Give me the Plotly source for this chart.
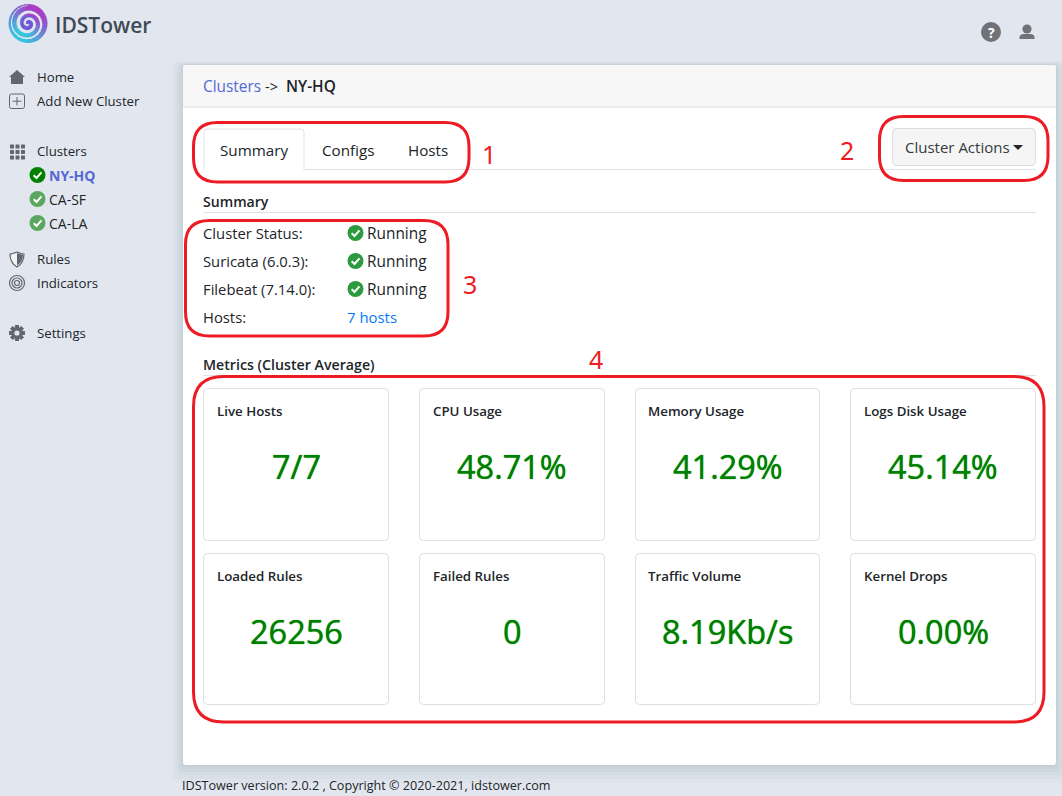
import math
import plotly.graph_objects as go

# ---- content -------------------------------------------------------------
nav_labels = ["Home", "Add New Cluster", "Clusters", "Rules", "Indicators", "Settings"]
nav_rows = [77, 101, 151, 259, 283, 333]
cluster_names = ["NY-HQ", "CA-SF", "CA-LA"]
cluster_rows = [175, 199, 223]
tab_labels = ["Summary", "Configs", "Hosts"]
tab_centers = [254, 348, 428]
status_labels = ["Cluster Status:", "Suricata (6.0.3):", "Filebeat (7.14.0):", "Hosts:"]
status_rows = [233, 261, 289, 317]
card_titles = ["Live Hosts", "CPU Usage", "Memory Usage", "Logs Disk Usage",
               "Loaded Rules", "Failed Rules", "Traffic Volume", "Kernel Drops"]
card_values = ["7/7", "48.71%", "41.29%", "45.14%", "26256", "0", "8.19Kb/s", "0.00%"]
card_lefts = [203, 419, 635, 850]
card_rights = [389, 605, 820, 1036]
card_title_lefts = [217, 433, 648, 864]
card_tops = [388, 553]
card_bottoms = [541, 705]
callout_labels = ["1", "2", "3", "4"]
callout_pos = [(489, 154), (847, 150), (470, 284), (596, 359)]

FONT = "Open Sans"
TEXT = "#212529"
GREEN = "#008000"
RED = "#ed1c24"
LINK = "#5468d4"
ICON = "#5f6770"
PAGE = "#e2e7ef"

fig = go.Figure()
shapes = []
notes = []


def rrect(x0, y0, x1, y1, r):
    return (f"M{x0+r},{y0} L{x1-r},{y0} Q{x1},{y0} {x1},{y0+r} L{x1},{y1-r} Q{x1},{y1} {x1-r},{y1} "
            f"L{x0+r},{y1} Q{x0},{y1} {x0},{y1-r} L{x0},{y0+r} Q{x0},{y0} {x0+r},{y0} Z")


def box(x0, y0, x1, y1, r=0, fill=None, line=None, lw=1, layer="below"):
    shapes.append(dict(type="path", path=rrect(x0, y0, x1, y1, r), fillcolor=fill or "rgba(0,0,0,0)",
                       line=dict(color=line or "rgba(0,0,0,0)", width=lw if line else 0), layer=layer))


def hline(x0, x1, y, color="#dee2e6"):
    shapes.append(dict(type="line", x0=x0, x1=x1, y0=y, y1=y, line=dict(color=color, width=1), layer="below"))


def disc(cx, cy, r, fill, line=None, lw=1):
    shapes.append(dict(type="circle", x0=cx-r, x1=cx+r, y0=cy-r, y1=cy+r, fillcolor=fill,
                       line=dict(color=line or "rgba(0,0,0,0)", width=lw if line else 0), layer="below"))


def poly(path, fill=None, line=None, lw=1):
    shapes.append(dict(type="path", path=path, fillcolor=fill or "rgba(0,0,0,0)",
                       line=dict(color=line or "rgba(0,0,0,0)", width=lw if line else 0), layer="below"))


def text(x, y, s, size=14, color=TEXT, anchor="left", weight=400, font=FONT, shadow=None):
    # annotations pad their box by 2px, left aligned text has to make up for it
    f = dict(family=font, size=size, color=color, weight=weight)
    if shadow:
        f["shadow"] = shadow
    notes.append(dict(x=x, y=y, text=s, showarrow=False, xanchor=anchor, yanchor="middle",
                      xshift=-2 if anchor == "left" else 0, font=f))


def check(cx, cy, r, fill):
    disc(cx, cy, r, fill)
    s = r / 8
    poly(f"M{cx-3.8*s},{cy+0.2*s} L{cx-1*s},{cy+3*s} L{cx+4*s},{cy-2.6*s}", line="white", lw=2)


# ---- panel and its soft shadow -------------------------------------------
for grow in [18, 14, 10, 7, 4, 2]:
    box(183-grow*0.6, 65-grow*0.2, 1056+grow*0.6, 765+grow, 6, fill="rgba(60,75,100,0.022)")
box(183, 65, 1056, 765, 3, fill="white")
shapes.append(dict(type="path", path="M183,107 L183,68 Q183,65 186,65 L1053,65 Q1056,65 1056,68 L1056,107 Z",
                   fillcolor="#f7f7f7", line=dict(width=0), layer="below"))
hline(183, 1056, 107, "#dcdcdc")

# ---- logo ----------------------------------------------------------------
LOGO_X, LOGO_Y = 28, 23.5
cyan, purple = (52, 196, 224), (168, 58, 196)
for k in range(36):
    a0 = math.radians(k*10)
    a1 = math.radians((k+1)*10 + 1.5)
    mid = (a0 + a1) / 2
    t = (1 + 0.55*math.cos(mid) - 0.85*math.sin(mid)) / 2
    c = [round(cyan[j] + (purple[j]-cyan[j])*t) for j in range(3)]
    poly(f"M{LOGO_X},{LOGO_Y} L{LOGO_X+19.5*math.cos(a0)},{LOGO_Y+19.5*math.sin(a0)} "
         f"L{LOGO_X+19.5*math.cos(a1)},{LOGO_Y+19.5*math.sin(a1)} Z", fill=f"rgb({c[0]},{c[1]},{c[2]})")
disc(LOGO_X+0.5, LOGO_Y, 8, "#6f5ad6")
# light spiral band cut out of the disc
steps = 60
for k in range(steps):
    f0, f1 = k/steps, (k+1.3)/steps
    a0, a1 = -math.pi/2 - f0*5.2*math.pi, -math.pi/2 - f1*5.2*math.pi
    r0, r1 = 17.5*(1-f0) + 0.8, 17.5*(1-f1) + 0.8
    poly(f"M{LOGO_X+r0*math.cos(a0)},{LOGO_Y+r0*math.sin(a0)} L{LOGO_X+r1*math.cos(a1)},{LOGO_Y+r1*math.sin(a1)}",
         line=PAGE, lw=min(3.2, 0.6 + k*0.09) if k < 30 else 3.2 - (k-30)*0.05)
text(55, 25, "IDSTower", size=21, color="#3f4a56", weight=600)

# ---- top-right icons -----------------------------------------------------
disc(991, 32, 10, "#6f7378")
text(991, 32, "?", size=14, color="white", anchor="center", weight=700)
disc(1027, 29, 4.6, "#6f7378")
poly("M1019.5,39 L1019.5,37 Q1020,34 1024,34 L1030,34 Q1034,34 1034.5,37 L1034.5,39 Z", fill="#6f7378")

# ---- sidebar -------------------------------------------------------------
for label, row in zip(nav_labels, nav_rows):
    text(37, row, label, size=13.2)
for name, row in zip(cluster_names, cluster_rows):
    first = name == cluster_names[0]
    check(37.5, row, 8, "#008000" if first else "#5aa75f")
    text(49, row, name, size=14, color=LINK if first else TEXT, weight=700 if first else 400)

# home
poly("M9,77 L17,70 L25,77 L23,77 L23,84 L11,84 L11,77 Z", fill=ICON)
# add cluster
box(9.5, 94, 24.5, 108.5, 2, line=ICON, lw=1)
poly("M17,97 L17,105.5 M12.5,101.2 L21.5,101.2", line=ICON, lw=1)
# clusters grid
for gx in [10, 15.5, 21]:
    for gy in [144.5, 150, 155.5]:
        box(gx, gy, gx+4, gy+4, 0.5, fill=ICON)
# rules shield
poly("M17,252 Q12,254 10,254 Q10,263 17,267 Q24,263 24,254 Q22,254 17,252 Z", fill="#f2f3f5", line=ICON, lw=1.2)
poly("M17,253 Q21,254.5 23,254.8 Q23,262 17,265.5 Z", fill=ICON)
# indicators target
for r, lw in [(7.5, 1.2), (5, 1.2), (2.5, 1.2)]:
    disc(17, 283, r, "rgba(0,0,0,0)", ICON, lw)
# settings gear
teeth = []
for k in range(8):
    a = math.radians(k*45)
    teeth.append(f"M{17+5*math.cos(a-0.4)},{333+5*math.sin(a-0.4)} L{17+8.2*math.cos(a-0.25)},{333+8.2*math.sin(a-0.25)} "
                 f"L{17+8.2*math.cos(a+0.25)},{333+8.2*math.sin(a+0.25)} L{17+5*math.cos(a+0.4)},{333+5*math.sin(a+0.4)} Z")
poly(" ".join(teeth), fill=ICON)
disc(17, 333, 6, ICON)
disc(17, 333, 2.6, PAGE)

# ---- breadcrumb ----------------------------------------------------------
text(203, 86.5, "Clusters", size=15.4, color=LINK)
text(265, 86.5, "-&gt;", size=14.5)
text(286, 86.5, "NY-HQ", size=15.4, weight=600)

# ---- tabs ----------------------------------------------------------------
hline(204, 1036, 169.5)
shapes.append(dict(type="path", path="M204,170 L204,132 Q204,129 207,129 L301,129 Q304,129 304,132 L304,170",
                   fillcolor="white", line=dict(color="#dee2e6", width=1), layer="below"))
shapes.append(dict(type="line", x0=205, x1=303, y0=169.5, y1=169.5, line=dict(color="white", width=1), layer="below"))
for label, cx in zip(tab_labels, tab_centers):
    text(cx, 150, label, size=15.2, anchor="center")

# ---- cluster actions button ----------------------------------------------
box(892.5, 128.5, 1035.5, 165.5, 4, fill="#f5f5f5", line="#dcdcdc")
text(905, 146.5, "Cluster Actions", size=15, color="#343a40")
poly("M1013,145 L1023,145 L1018,150 Z", fill="#212529")

# ---- summary -------------------------------------------------------------
text(203, 201, "Summary", size=14.1, weight=600)
hline(203, 1036, 212.5)
for label, row in zip(status_labels, status_rows):
    text(203, row, label, size=14.8)
for row in status_rows[:3]:
    check(355.5, row, 8, "#2e9a3f")
    text(367, row, "Running", size=15.4)
text(347, status_rows[3], "7 hosts", size=14.9, color="#007bff")

# ---- metrics -------------------------------------------------------------
text(203, 364, "Metrics (Cluster Average)", size=14.2, weight=600)
hline(203, 1036, 375.5)
for i, (title, value) in enumerate(zip(card_titles, card_values)):
    col, row = i % 4, i // 4
    x0, x1 = card_lefts[col], card_rights[col]
    y0, y1 = card_tops[row], card_bottoms[row]
    box(x0+0.5, y0+0.5, x1-0.5, y1-0.5, 4, fill="white", line="#dedede")
    text(card_title_lefts[col], y0+23, title, size=13.3, weight=600)
    text((x0+x1)/2, y0+78, value, size=32.5, color=GREEN, anchor="center", shadow="0 0 1px #008000")

# ---- red callouts, drawn over everything ---------------------------------
box(193.5, 122.5, 469, 182, 24, line=RED, lw=3, layer="above")
box(879.5, 116.5, 1048, 180.5, 24, line=RED, lw=3, layer="above")
box(185.5, 220.5, 448, 336, 24, line=RED, lw=3, layer="above")
box(193.5, 376.5, 1044, 722, 30, line=RED, lw=3, layer="above")
for label, (cx, cy) in zip(callout_labels, callout_pos):
    text(cx, cy, label, size=25, color=RED, anchor="center", font="Noto Sans")

# ---- footer --------------------------------------------------------------
text(182, 785, "IDSTower version: 2.0.2 , Copyright © 2020-2021, idstower.com", size=12.6)

fig.update_layout(
    width=1062, height=796, margin=dict(l=0, r=0, t=0, b=0),
    paper_bgcolor=PAGE, plot_bgcolor=PAGE,
    showlegend=False, shapes=shapes, annotations=notes,
    xaxis=dict(range=[0, 1062], visible=False, fixedrange=True),
    yaxis=dict(range=[796, 0], visible=False, fixedrange=True),
)
fig.write_html("out.html", post_script="document.body.style.margin='0';", config={"displayModeBar": False})
